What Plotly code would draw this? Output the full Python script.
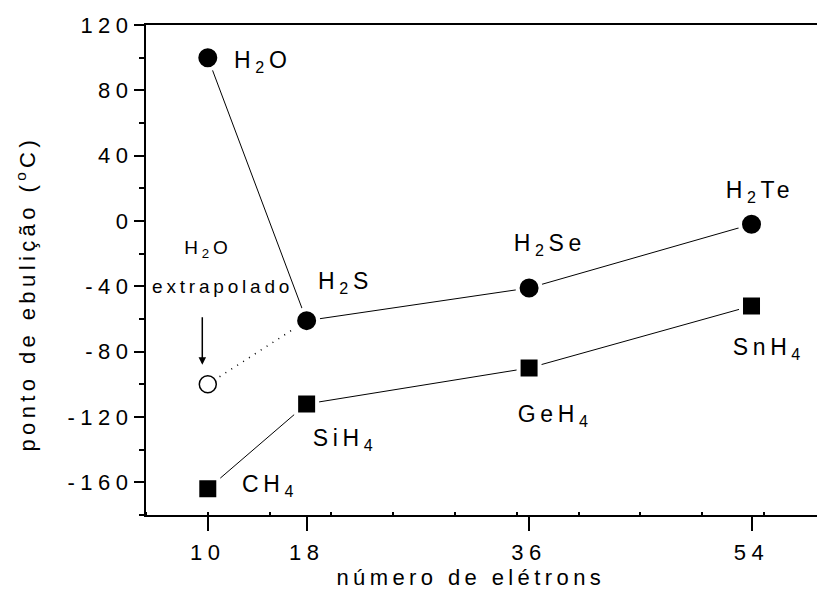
import plotly.graph_objects as go

# ---- data ----
electrons = [10, 18, 36, 54]
group16_names = ["H<sub>2</sub>O", "H<sub>2</sub>S", "H<sub>2</sub>Se", "H<sub>2</sub>Te"]
group16_bp = [100, -61, -41, -2]
group14_names = ["CH<sub>4</sub>", "SiH<sub>4</sub>", "GeH<sub>4</sub>", "SnH<sub>4</sub>"]
group14_bp = [-164, -112, -90, -52]
h2o_extrap_x = [10, 18]
h2o_extrap_y = [-100, -61]

x_tick_vals = [10, 18, 36, 54]
x_tick_text = ["10", "18", "36", "54"]
y_tick_vals = [-160, -120, -80, -40, 0, 40, 80, 120]
y_tick_text = ["-160", "-120", "-80", "-40", "0", "40", "80", "120"]

FONT = "Liberation Sans, Arial, sans-serif"

fig = go.Figure()

# dotted extrapolation line
fig.add_trace(go.Scatter(
    x=h2o_extrap_x, y=h2o_extrap_y, mode="lines",
    line=dict(color="black", width=1.5, dash="1px,6px"),
    hoverinfo="skip", showlegend=False))

# extrapolated H2O (open circle)
fig.add_trace(go.Scatter(
    x=h2o_extrap_x[:1], y=h2o_extrap_y[:1], mode="markers",
    marker=dict(symbol="circle", size=17, color="white",
                line=dict(color="black", width=1.5)),
    showlegend=False))

# group 16 hydrides
fig.add_trace(go.Scatter(
    x=electrons, y=group16_bp, mode="lines+markers",
    line=dict(color="black", width=1),
    marker=dict(symbol="circle", size=23, color="black",
                line=dict(color="white", width=4)),
    showlegend=False))

# group 14 hydrides
fig.add_trace(go.Scatter(
    x=electrons, y=group14_bp, mode="lines+markers",
    line=dict(color="black", width=1),
    marker=dict(symbol="square", size=21, color="black",
                line=dict(color="white", width=4)),
    showlegend=False))

annotations = []
lab16_shift = [(31, -4), (16.6, 38.6), (-8.5, 43.7), (-18.3, 32.7)]
for xv, yv, name, (dx, dy) in zip(electrons, group16_bp, group16_names, lab16_shift):
    annotations.append(dict(x=xv, y=yv, xref="x", yref="y", text=name,
                            showarrow=False, xanchor="left", yanchor="middle",
                            xshift=dx, yshift=dy,
                            font=dict(family=FONT, size=23, color="black")))
lab14_shift = [(38.9, 3), (13.3, -36), (-4.5, -47.9), (-11.6, -42.4)]
for xv, yv, name, (dx, dy) in zip(electrons, group14_bp, group14_names, lab14_shift):
    annotations.append(dict(x=xv, y=yv, xref="x", yref="y", text=name,
                            showarrow=False, xanchor="left", yanchor="middle",
                            xshift=dx, yshift=dy,
                            font=dict(family=FONT, size=23, color="black")))

# extrapolated label + arrow
annotations.append(dict(x=h2o_extrap_x[0], y=h2o_extrap_y[0], xref="x", yref="y",
                        text="H<sub>2</sub>O", showarrow=False,
                        xanchor="center", yanchor="middle", xshift=0, yshift=135.5,
                        font=dict(family=FONT, size=19, color="black")))
annotations.append(dict(x=h2o_extrap_x[0], y=h2o_extrap_y[0], xref="x", yref="y",
                        text="extrapolado", showarrow=False,
                        xanchor="center", yanchor="middle", xshift=15, yshift=98,
                        font=dict(family=FONT, size=19, color="black")))
annotations.append(dict(x=h2o_extrap_x[0], y=h2o_extrap_y[0], xref="x", yref="y",
                        text="", showarrow=True, arrowhead=2, arrowsize=1,
                        arrowwidth=1.5, arrowcolor="black",
                        ax=0, ay=-49, xshift=-5.5, yshift=19.6))

# axis titles
annotations.append(dict(x=0.4844, y=-0.1273, xref="paper", yref="paper",
                        text="número de elétrons", showarrow=False,
                        xanchor="center", yanchor="middle",
                        font=dict(family=FONT, size=22, color="black")))
annotations.append(dict(x=-0.1793, y=0.452, xref="paper", yref="paper",
                        text="ponto de ebulição (<sup>o</sup>C)", showarrow=False,
                        textangle=-90, xanchor="center", yanchor="middle",
                        font=dict(family=FONT, size=22, color="black")))

fig.update_layout(
    width=817, height=589,
    margin=dict(l=146, r=0, t=25, b=74, pad=0),
    paper_bgcolor="white", plot_bgcolor="white",
    font=dict(family=FONT, color="black"),
    annotations=annotations,
    showlegend=False,
)

fig.update_xaxes(
    range=[5, 59.3], tickmode="array", tickvals=x_tick_vals, ticktext=x_tick_text,
    ticks="outside", ticklen=14, tickwidth=1.5, tickcolor="black",
    ticklabelstandoff=3,
    showline=True, linewidth=2, linecolor="black", mirror=True,
    showgrid=False, zeroline=False,
    tickfont=dict(family=FONT, size=22, color="black"),
    minor=dict(tickmode="array", tickvals=list(range(5, 60, 5)),
               ticks="inside", ticklen=3, tickwidth=1.5, tickcolor="black"),
)
fig.update_yaxes(
    range=[-180, 120], tickmode="array", tickvals=y_tick_vals, ticktext=y_tick_text,
    ticks="outside", ticklen=10, tickwidth=1.5, tickcolor="black",
    ticklabelstandoff=-4,
    showline=True, linewidth=2, linecolor="black", mirror=False,
    showgrid=False, zeroline=False,
    tickfont=dict(family=FONT, size=22, color="black"),
    minor=dict(tickmode="array", tickvals=list(range(-180, 121, 20)),
               ticks="outside", ticklen=5, tickwidth=1.5, tickcolor="black"),
)

post = """
var s=document.createElement('style');
s.textContent='html,body{margin:0;padding:0;overflow:hidden;} .main-svg text{letter-spacing:0.2em;} .xtick text,.ytick text{letter-spacing:0.25em;}';
document.head.appendChild(s);
"""
fig.write_html("out.html", post_script=post, config={"displayModeBar": False})
